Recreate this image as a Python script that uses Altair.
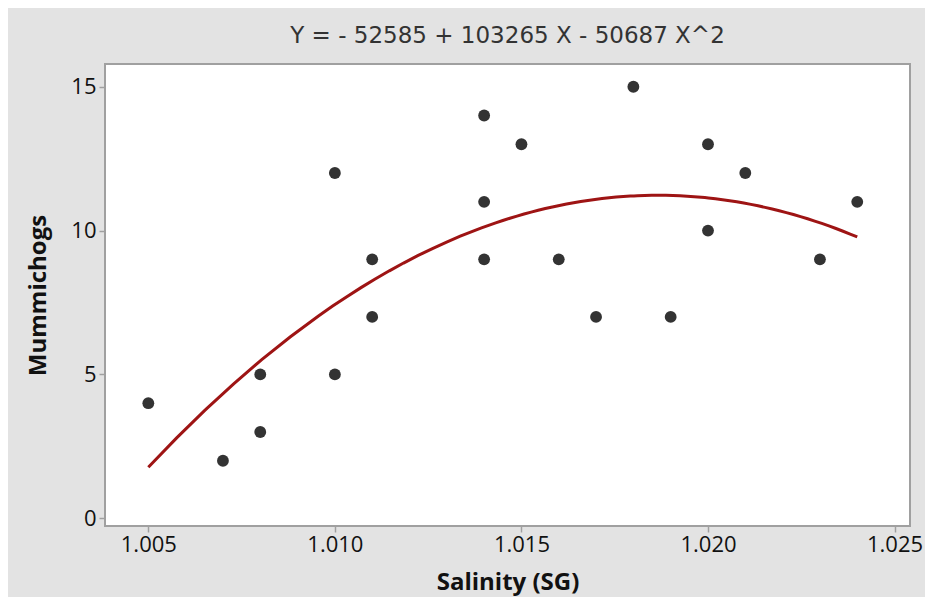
import altair as alt
import pandas as pd

# Data
salinity = [1.005, 1.007, 1.008, 1.008, 1.010, 1.010, 1.011, 1.011, 1.014, 1.014, 1.014,
            1.015, 1.016, 1.017, 1.018, 1.019, 1.020, 1.020, 1.021, 1.023, 1.024]
mummichogs = [4, 2, 5, 3, 12, 5, 9, 7, 14, 11, 9,
              13, 9, 7, 15, 7, 13, 10, 12, 9, 11]
x_ticks = [1.005, 1.010, 1.015, 1.020, 1.025]
y_ticks = [0, 5, 10, 15]
title_text = "Y = - 52585 + 103265 X - 50687 X^2"

df = pd.DataFrame({"x": salinity, "y": mummichogs})

FONT = "Open Sans"

xscale = alt.Scale(domain=[1.003839, 1.025414], nice=False, zero=False)
yscale = alt.Scale(domain=[-0.268, 15.79], nice=False, zero=False)

xaxis = alt.Axis(values=x_ticks, format=".3f", title="Salinity (SG)", grid=False,
                 domain=False, tickColor="#a0a0a0", tickSize=6, tickWidth=1.5,
                 labelFont=FONT, labelFontSize=22, labelColor="#111111", labelPadding=2,
                 titleFont=FONT, titleFontSize=24, titleFontWeight="bold", titleColor="#111111",
                 titlePadding=15)
yaxis = alt.Axis(values=y_ticks, title="Mummichogs", grid=False,
                 domain=False, tickColor="#a0a0a0", tickSize=6, tickWidth=1.5,
                 labelFont=FONT, labelFontSize=22, labelColor="#111111", labelPadding=3,
                 titleFont=FONT, titleFontSize=24, titleFontWeight="bold", titleColor="#111111",
                 titlePadding=20)

base = alt.Chart(df)

points = base.mark_circle(size=140, opacity=1, color="#333333").encode(
    x=alt.X("x:Q", scale=xscale, axis=xaxis),
    y=alt.Y("y:Q", scale=yscale, axis=yaxis),
)

curve = base.transform_regression("x", "y", method="poly", order=2).mark_line(
    color="#9e1414", strokeWidth=3
).encode(
    x=alt.X("x:Q", scale=xscale),
    y=alt.Y("y:Q", scale=yscale),
)

chart = alt.layer(curve, points).properties(
    width=805,
    height=462,
    autosize=alt.AutoSizeParams(type="none"),
    padding={"left": 97, "top": 56, "right": 15, "bottom": 71},
    background="#e3e3e3",
    title=alt.TitleParams(title_text, font="DejaVu Sans", fontSize=23, fontWeight="normal",
                          color="#333333", anchor="middle", baseline="alphabetic", offset=-2),
).configure_view(
    stroke="#a0a0a0", strokeWidth=2, fill="white"
)

chart.save("out.html", embed_options={"renderer": "svg", "actions": False})
